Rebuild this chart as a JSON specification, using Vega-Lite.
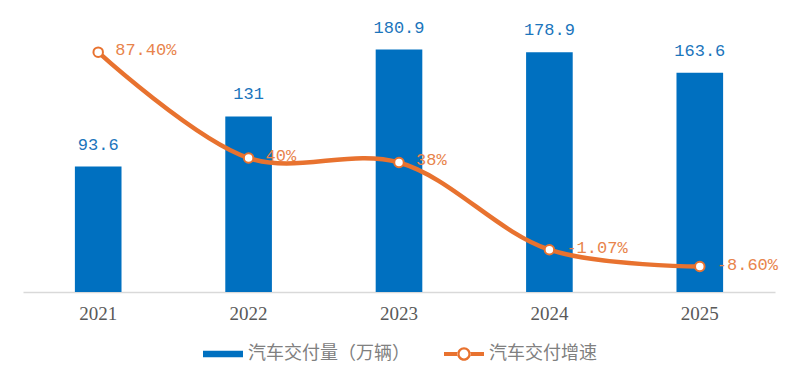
{
  "$schema": "https://vega.github.io/schema/vega-lite/v6.json",
  "width": 752,
  "height": 268,
  "padding": {"left": 23, "top": 18, "right": 24, "bottom": 5},
  "background": "white",
  "config": {"view": {"stroke": null}},
  "data": {"values": [
    {"year": "2021", "volume": 93.6, "growth": 87.4, "glabel": "87.40%"},
    {"year": "2022", "volume": 131, "growth": 40, "glabel": "40%"},
    {"year": "2023", "volume": 180.9, "growth": 38, "glabel": "38%"},
    {"year": "2024", "volume": 178.9, "growth": -1.07, "glabel": "-1.07%"},
    {"year": "2025", "volume": 163.6, "growth": -8.6, "glabel": "-8.60%"}
  ]},
  "encoding": {
    "x": {
      "field": "year", "type": "ordinal",
      "scale": {"paddingInner": 0.69, "paddingOuter": 0.345},
      "axis": {"title": null, "labelAngle": 0, "ticks": false, "domainColor": "#D9D9D9", "domainWidth": 1.5,
               "labelColor": "#595959", "labelFont": "Liberation Serif", "labelFontSize": 19, "labelPadding": 12, "grid": false}
    }
  },
  "layer": [
    {
      "encoding": {"y": {"field": "volume", "type": "quantitative", "scale": {"domain": [0, 200]}, "axis": null}},
      "layer": [
        {
          "mark": {"type": "bar", "color": "#0070C0"},
          "encoding": {
            "color": {
              "datum": "汽车交付量（万辆）",
              "scale": {"domain": ["汽车交付量（万辆）", "汽车交付增速"], "range": ["#0070C0", "#E8722F"]},
              "legend": {
                "orient": "none", "legendX": 180, "legendY": 310, "direction": "horizontal", "title": null,
                "labelFont": "Noto Sans CJK SC", "labelFontSize": 18, "labelColor": "#808080", "labelLimit": 400,
                "symbolSize": 1600, "columnPadding": 34, "labelOffset": 5,
                "encode": {"symbols": {"update": {
                  "shape": {"signal": "datum.value === '汽车交付增速' ? 'M-1,-0.1H-0.32V0.1H-1Z M0.32,-0.1H1V0.1H0.32Z M-0.34,0A0.34,0.34 0 1 0 0.34,0A0.34,0.34 0 1 0 -0.34,0Z M-0.22,0A0.22,0.22 0 1 1 0.22,0A0.22,0.22 0 1 1 -0.22,0Z' : 'M-1,-0.16H1V0.16H-1Z'"},
                  "fill": {"signal": "datum.value === '汽车交付增速' ? '#E8722F' : '#0070C0'"},
                  "stroke": {"value": "transparent"},
                  "strokeWidth": {"value": 0},
                  "opacity": {"value": 1},
                  "fillOpacity": {"value": 1}
                }}}
              }
            }
          }
        },
        {
          "mark": {"type": "text", "baseline": "bottom", "dy": -13, "font": "Liberation Mono", "fontSize": 17, "color": "#1B75BC"},
          "encoding": {"text": {"field": "volume", "type": "nominal"}}
        }
      ]
    },
    {
      "encoding": {"y": {"field": "growth", "type": "quantitative", "scale": {"domain": [-20, 100]}, "axis": null}},
      "layer": [
        {
          "mark": {"type": "line", "interpolate": "catmull-rom", "strokeWidth": 4.5, "strokeCap": "round"},
          "encoding": {"color": {"datum": "汽车交付增速"}}
        },
        {
          "mark": {"type": "point", "filled": false, "fill": "white", "fillOpacity": 1, "stroke": "#E8722F", "strokeWidth": 2, "size": 90, "opacity": 1}
        },
        {
          "mark": {"type": "text", "align": "left", "baseline": "middle", "dx": 17, "dy": -2, "font": "Liberation Mono", "fontSize": 17, "color": "#E8844C"},
          "encoding": {"text": {"field": "glabel", "type": "nominal"}}
        }
      ]
    }
  ],
  "resolve": {"scale": {"y": "independent"}}
}
